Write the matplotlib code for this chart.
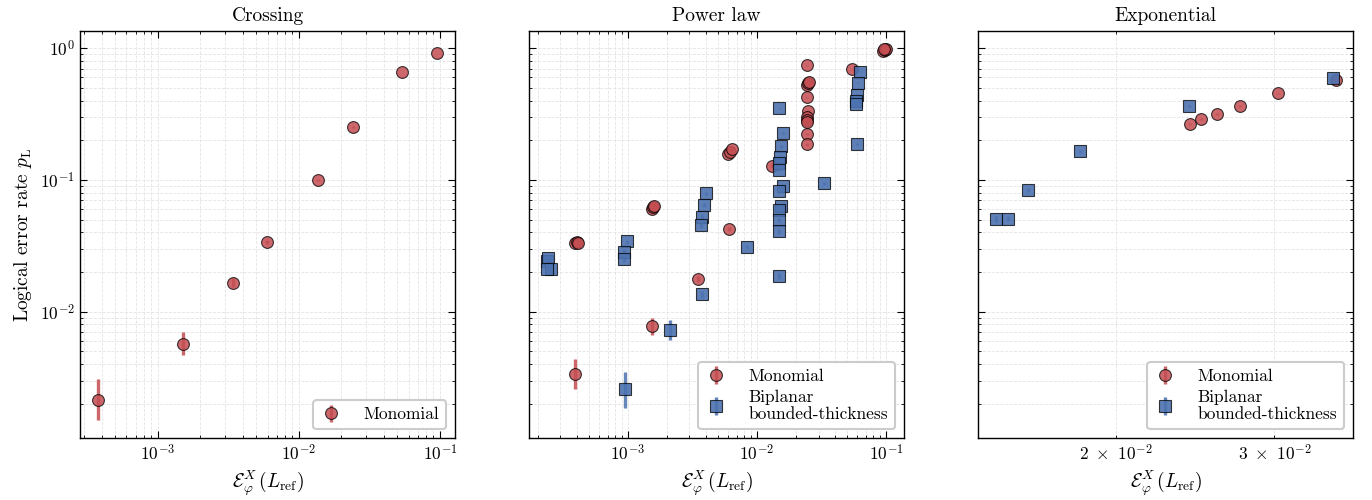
import numpy as np
import matplotlib
matplotlib.use("Agg")
import matplotlib.pyplot as plt
from matplotlib.ticker import FuncFormatter

plt.rcParams.update({
    "font.family": "serif",
    "font.serif": ["cmr10", "DejaVu Serif"],
    "mathtext.fontset": "cm",
    "axes.formatter.use_mathtext": True,
    "xtick.direction": "in", "ytick.direction": "in",
    "xtick.top": True, "ytick.right": True,
    "xtick.major.size": 5, "ytick.major.size": 5,
    "xtick.minor.size": 2.5, "ytick.minor.size": 2.5,
    "xtick.minor.visible": True, "ytick.minor.visible": True,
    "axes.linewidth": 1.0,
})

RED = "#C44E52"
BLUE = "#4C72B0"

# ---------------- Crossing ----------------
cross_mono_x = [3.77e-4, 1.50e-3, 3.39e-3, 5.98e-3, 0.0136, 0.0241, 0.0539, 0.0952]
cross_mono_y = [2.15e-3, 5.72e-3, 0.0166, 0.0339, 0.100, 0.252, 0.658, 0.917]
cross_mono_lo = [0.65e-3, 1.0e-3, 1.2e-3, 1.0e-3, 2e-3, 3e-3, 4e-3, 3e-3]
cross_mono_hi = [0.95e-3, 1.3e-3, 1.4e-3, 1.2e-3, 2e-3, 3e-3, 4e-3, 3e-3]

# ---------------- Power law ----------------
pl_mono_x = [3.9e-4, 4.0e-4, 4.1e-4, 3.9e-4,
             1.53e-3, 1.56e-3, 1.58e-3, 1.54e-3,
             6.0e-3, 6.2e-3, 6.4e-3, 6.1e-3, 3.49e-3, 0.0130,
             0.0243, 0.0243, 0.0248, 0.0252, 0.0243, 0.0248, 0.0243, 0.0245,
             0.0243, 0.0243, 0.0243, 0.0542, 0.095, 0.098, 0.100, 0.097]
pl_mono_y = [0.0335, 0.0338, 0.0332, 3.37e-3,
             0.0600, 0.0624, 0.0635, 7.74e-3,
             0.157, 0.164, 0.171, 0.0426, 0.0177, 0.128,
             0.743, 0.530, 0.545, 0.555, 0.423, 0.333, 0.302, 0.285,
             0.273, 0.223, 0.187, 0.690, 0.950, 0.970, 0.980, 0.990]
pl_mono_lo = [1e-3, 1e-3, 1e-3, 0.8e-3,
              1.5e-3, 1.5e-3, 1.5e-3, 1.1e-3,
              3e-3, 3e-3, 3e-3, 1.5e-3, 0.8e-3, 3e-3,
              5e-3, 5e-3, 5e-3, 5e-3, 5e-3, 5e-3, 5e-3, 5e-3,
              5e-3, 5e-3, 5e-3, 5e-3, 5e-3, 5e-3, 5e-3, 5e-3]
pl_mono_hi = [1e-3, 1e-3, 1e-3, 1.0e-3,
              1.5e-3, 1.5e-3, 1.5e-3, 1.2e-3,
              3e-3, 3e-3, 3e-3, 1.5e-3, 0.8e-3, 3e-3,
              5e-3, 5e-3, 5e-3, 5e-3, 5e-3, 5e-3, 5e-3, 5e-3,
              5e-3, 5e-3, 5e-3, 5e-3, 5e-3, 5e-3, 5e-3, 5e-3]

pl_bi_x = [2.35e-4, 2.40e-4, 2.53e-4, 2.35e-4,
           9.9e-4, 9.3e-4, 9.3e-4, 9.43e-4,
           4.02e-3, 3.88e-3, 3.72e-3, 3.66e-3, 3.72e-3, 2.12e-3, 8.32e-3,
           0.0148, 0.0160, 0.0153, 0.0150, 0.0149, 0.0148, 0.0160, 0.0149,
           0.0153, 0.0149, 0.0148, 0.0149, 0.0149, 0.0333,
           0.0628, 0.0608, 0.0595, 0.0585, 0.0590, 0.0600]
pl_bi_y = [0.0241, 0.0255, 0.0212, 0.0210,
           0.0341, 0.0285, 0.0251, 2.57e-3,
           0.0793, 0.0646, 0.0527, 0.0455, 0.0136, 7.31e-3, 0.0310,
           0.349, 0.226, 0.180, 0.150, 0.134, 0.119, 0.0902, 0.0826,
           0.0636, 0.0590, 0.0498, 0.0407, 0.0188, 0.0944,
           0.661, 0.546, 0.441, 0.400, 0.376, 0.187]
pl_bi_lo = [1e-3, 1e-3, 1e-3, 1e-3,
            1.2e-3, 1.2e-3, 1.2e-3, 0.72e-3,
            2e-3, 2e-3, 2e-3, 2e-3, 0.8e-3, 1.2e-3, 1.2e-3,
            5e-3, 4e-3, 4e-3, 3e-3, 3e-3, 3e-3, 2.5e-3, 2.5e-3,
            2e-3, 2e-3, 2e-3, 1.5e-3, 1e-3, 2.5e-3,
            5e-3, 5e-3, 5e-3, 5e-3, 5e-3, 4e-3]
pl_bi_hi = [1e-3, 1e-3, 1e-3, 1e-3,
            1.2e-3, 1.2e-3, 1.2e-3, 0.93e-3,
            2e-3, 2e-3, 2e-3, 2e-3, 0.8e-3, 1.4e-3, 1.2e-3,
            5e-3, 4e-3, 4e-3, 3e-3, 3e-3, 3e-3, 2.5e-3, 2.5e-3,
            2e-3, 2e-3, 2e-3, 1.5e-3, 1e-3, 2.5e-3,
            5e-3, 5e-3, 5e-3, 5e-3, 5e-3, 4e-3]

# ---------------- Exponential ----------------
exp_mono_x = [0.0242, 0.02487, 0.0259, 0.02744, 0.03025, 0.0351]
exp_mono_y = [0.266, 0.290, 0.316, 0.364, 0.454, 0.572]
exp_mono_err = [6e-3, 6e-3, 6e-3, 6e-3, 6e-3, 6e-3]
exp_bi_x = [0.0147, 0.01517, 0.01595, 0.01822, 0.0241, 0.0349]
exp_bi_y = [0.0504, 0.0509, 0.0840, 0.165, 0.364, 0.589]
exp_bi_err = [2.5e-3, 2.5e-3, 3e-3, 4e-3, 6e-3, 6e-3]

titles = ["Crossing", "Power law", "Exponential"]
xlims = [(2.81e-4, 0.128), (1.71e-4, 0.138), (0.01404, 0.0367)]
ylim = (1.1e-3, 1.35)

fig = plt.figure(figsize=(13.72, 5.0), dpi=100)
W, H = 1372, 500
lefts = [80, 529, 978]
axes = []
for i, l in enumerate(lefts):
    rect = [l / W, 1 - 438 / H, 375 / W, (438 - 31) / H]
    if i == 0:
        ax = fig.add_axes(rect)
    else:
        ax = fig.add_axes(rect, sharey=axes[0])
    axes.append(ax)

mono_style = dict(fmt="o", color=RED, ms=8.5, mfc=(0.769, 0.306, 0.322, 0.85),
                  mec=(0, 0, 0, 0.75), mew=0.8, elinewidth=2.4, ecolor=(0.769, 0.306, 0.322, 0.85),
                  capsize=0, label="Monomial", zorder=3)
bi_style = dict(fmt="s", color=BLUE, ms=8.5, mfc=(0.298, 0.447, 0.690, 0.9),
                mec=(0, 0, 0, 0.75), mew=0.8, elinewidth=2.4, ecolor=(0.298, 0.447, 0.690, 0.85),
                capsize=0, label="Biplanar\nbounded-thickness", zorder=3)

ax = axes[0]
ax.errorbar(cross_mono_x, cross_mono_y, yerr=[cross_mono_lo, cross_mono_hi], **mono_style)

ax = axes[1]
ax.errorbar(pl_mono_x, pl_mono_y, yerr=[pl_mono_lo, pl_mono_hi], **mono_style)
ax.errorbar(pl_bi_x, pl_bi_y, yerr=[pl_bi_lo, pl_bi_hi], **bi_style)

ax = axes[2]
ax.errorbar(exp_mono_x, exp_mono_y, yerr=exp_mono_err, **mono_style)
ax.errorbar(exp_bi_x, exp_bi_y, yerr=exp_bi_err, **bi_style)


def sci_minor(v, pos):
    e = int(np.floor(np.log10(v) + 1e-9))
    m = v / 10.0 ** e
    mi = int(round(m))
    if abs(m - mi) > 1e-6 or mi not in (2, 3):
        return ""
    return r"$%d\ \times\ 10^{%d}$" % (mi, e)


for i, ax in enumerate(axes):
    ax.set_xscale("log")
    ax.set_yscale("log")
    ax.set_xlim(*xlims[i])
    ax.set_ylim(*ylim)
    ax.set_title(titles[i], fontsize=14, pad=7)
    ax.set_xlabel(r"$\mathcal{E}^{X}_{\varphi}\,(L_{\mathrm{ref}})$", fontsize=14)
    ax.grid(True, which="both", linestyle="--", color="#e4e4e4", linewidth=0.6)
    ax.set_axisbelow(True)
    ax.tick_params(which="both", labelsize=12.5)
    if i > 0:
        ax.tick_params(which="both", labelleft=False)
    leg = ax.legend(loc="lower right", fontsize=12.5, handlelength=1.2, handletextpad=1.3,
                    borderpad=0.4, labelspacing=0.3, fancybox=True, framealpha=1.0)
    leg.get_frame().set_edgecolor("#cccccc")
    leg.get_frame().set_linewidth(1.5)

axes[2].xaxis.set_minor_formatter(FuncFormatter(sci_minor))
axes[0].set_ylabel(r"Logical error rate $p_{\mathrm{L}}$", fontsize=14)

fig.savefig("out.png", dpi=100)
